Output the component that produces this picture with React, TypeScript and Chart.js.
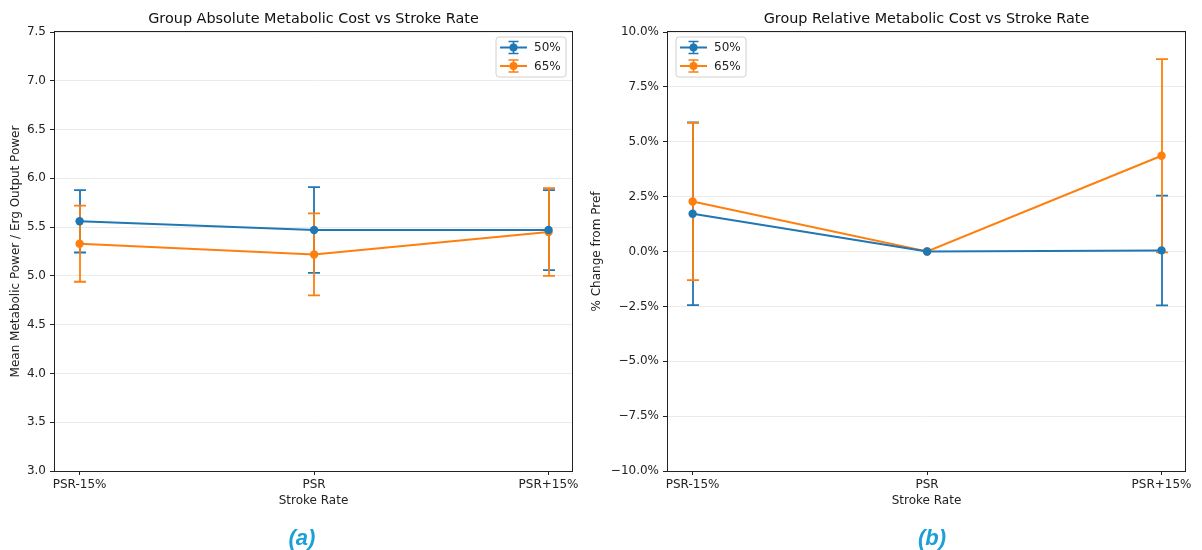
import React, { useEffect, useRef } from "react";
import { Chart, registerables } from "chart.js";

Chart.register(...registerables);

// Stroke-rate conditions on the x axis
const categories = ["PSR-15%", "PSR", "PSR+15%"];
const seriesLabels = ["50%", "65%"];
const seriesColors = ["#1f77b4", "#ff7f0e"];

// Absolute metabolic cost (mean ± SD)
const absMean50 = [5.56, 5.47, 5.47];
const absErr50 = [0.32, 0.44, 0.41];
const absMean65 = [5.33, 5.22, 5.45];
const absErr65 = [0.39, 0.42, 0.45];

// Relative change from preferred stroke rate, % (mean ± SD)
const relMean50 = [1.72, 0.0, 0.05];
const relErr50 = [4.16, 0.0, 2.5];
const relMean65 = [2.28, 0.0, 4.36];
const relErr65 = [3.58, 0.0, 4.4];

// Tick settings
const absTicks = { min: 3.0, max: 7.5, step: 0.5 };
const relTicks = { min: -10, max: 10, step: 2.5 };

const FONT = "'DejaVu Sans', 'Noto Sans', sans-serif";
const TEXT = "#222222";
const LABEL_SIZE = 12;
const TITLE_SIZE = 14.4;

Chart.defaults.font.family = FONT;
Chart.defaults.font.size = LABEL_SIZE;
Chart.defaults.color = TEXT;

type PanelProps = {
  title: string;
  yTitle: string;
  means: number[][];
  errs: number[][];
  yMin: number;
  yMax: number;
  yStep: number;
  yFormat: (v: number) => string;
  width: number;
  yAxisWidth: number;
  rightPad: number;
  yTitlePad: number;
  legendSide: "left" | "right";
};

const errorBarPlugin = {
  id: "errorBars",
  beforeDatasetsDraw(chart: any) {
    const ctx = chart.ctx;
    const yScale = chart.scales.y;
    chart.data.datasets.forEach((ds: any, i: number) => {
      const meta = chart.getDatasetMeta(i);
      ctx.save();
      ctx.strokeStyle = ds.borderColor;
      ctx.lineWidth = 1.8;
      meta.data.forEach((pt: any, j: number) => {
        const e = ds.errors[j];
        if (!e) return;
        const m = ds.data[j].y;
        const x = Math.round(pt.x);
        const yt = yScale.getPixelForValue(m + e);
        const yb = yScale.getPixelForValue(m - e);
        ctx.beginPath();
        ctx.moveTo(x, yt);
        ctx.lineTo(x, yb);
        ctx.moveTo(x - 6, yt);
        ctx.lineTo(x + 6, yt);
        ctx.moveTo(x - 6, yb);
        ctx.lineTo(x + 6, yb);
        ctx.stroke();
      });
      ctx.restore();
    });
  },
};

const framePlugin = {
  id: "frameTitleLegend",
  afterDraw(chart: any, _args: any, opts: any) {
    const ctx = chart.ctx;
    const a = chart.chartArea;
    ctx.save();
    // full box around plot area
    ctx.strokeStyle = "#222222";
    ctx.lineWidth = 1;
    ctx.strokeRect(Math.round(a.left) - 0.5, Math.round(a.top) - 0.5, Math.round(a.right - a.left) + 1, Math.round(a.bottom - a.top) + 1);

    // title centred over plot area
    ctx.fillStyle = "#111111";
    ctx.font = `${TITLE_SIZE}px ${FONT}`;
    ctx.textAlign = "center";
    ctx.textBaseline = "middle";
    ctx.fillText(opts.title, (a.left + a.right) / 2, 19);

    // legend box
    const w = 70;
    const h = 40;
    const x = opts.side === "right" ? a.right - 6 - w : a.left + 8;
    const y = a.top + 5;
    ctx.beginPath();
    const r = 3;
    ctx.moveTo(x + r, y);
    ctx.lineTo(x + w - r, y);
    ctx.quadraticCurveTo(x + w, y, x + w, y + r);
    ctx.lineTo(x + w, y + h - r);
    ctx.quadraticCurveTo(x + w, y + h, x + w - r, y + h);
    ctx.lineTo(x + r, y + h);
    ctx.quadraticCurveTo(x, y + h, x, y + h - r);
    ctx.lineTo(x, y + r);
    ctx.quadraticCurveTo(x, y, x + r, y);
    ctx.closePath();
    ctx.fillStyle = "rgba(255,255,255,0.85)";
    ctx.fill();
    ctx.strokeStyle = "#d0d0d0";
    ctx.stroke();

    chart.data.datasets.forEach((ds: any, i: number) => {
      const cy = y + 10.5 + i * 18.5;
      const mx = x + 17.5;
      ctx.strokeStyle = ds.borderColor;
      ctx.fillStyle = ds.borderColor;
      ctx.lineWidth = 2;
      ctx.beginPath();
      ctx.moveTo(x + 4, cy);
      ctx.lineTo(x + 31, cy);
      ctx.stroke();
      ctx.lineWidth = 1.6;
      ctx.beginPath();
      ctx.moveTo(mx, cy - 6);
      ctx.lineTo(mx, cy + 6);
      ctx.moveTo(mx - 5, cy - 6);
      ctx.lineTo(mx + 5, cy - 6);
      ctx.moveTo(mx - 5, cy + 6);
      ctx.lineTo(mx + 5, cy + 6);
      ctx.stroke();
      ctx.beginPath();
      ctx.arc(mx, cy, 4, 0, Math.PI * 2);
      ctx.fill();
      ctx.fillStyle = TEXT;
      ctx.font = `${LABEL_SIZE}px ${FONT}`;
      ctx.textAlign = "left";
      ctx.textBaseline = "middle";
      ctx.fillText(ds.label, x + 38, cy + 0.5);
    });
    ctx.restore();
  },
};

function Panel(p: PanelProps) {
  const ref = useRef<HTMLCanvasElement | null>(null);
  useEffect(() => {
    if (!ref.current) return;
    const datasets = p.means.map((vals, i) => ({
      label: seriesLabels[i],
      data: vals.map((v, j) => ({ x: j, y: v })),
      errors: p.errs[i],
      borderColor: seriesColors[i],
      backgroundColor: seriesColors[i],
      borderWidth: 2,
      pointRadius: 4.2,
      pointBorderWidth: 0,
      pointHoverRadius: 4.2,
      tension: 0,
      fill: false,
    }));
    const chart = new Chart(ref.current, {
      type: "line",
      data: { datasets } as any,
      plugins: [errorBarPlugin, framePlugin],
      options: {
        responsive: false,
        animation: false,
        devicePixelRatio: 1,
        layout: { padding: { left: 0, right: p.rightPad, top: 32, bottom: 0 } },
        plugins: {
          legend: { display: false },
          tooltip: { enabled: false },
          title: { display: false },
          frameTitleLegend: { title: p.title, side: p.legendSide },
        } as any,
        scales: {
          x: {
            type: "linear",
            min: -0.105,
            max: 2.1,
            afterBuildTicks: (s: any) => {
              s.ticks = categories.map((_, i) => ({ value: i }));
            },
            afterFit: (s: any) => {
              s.height = 79;
            },
            ticks: {
              autoSkip: false,
              maxRotation: 0,
              padding: 3,
              color: TEXT,
              callback: (v: any) => categories[v] ?? "",
            },
            grid: { drawOnChartArea: false, drawTicks: true, tickLength: 4, tickColor: "#222222", color: "#222222" },
            border: { display: false },
            title: { display: true, text: "Stroke Rate", color: TEXT, font: { size: LABEL_SIZE }, padding: { top: 0, bottom: 42 } },
          },
          y: {
            type: "linear",
            min: p.yMin,
            max: p.yMax,
            afterFit: (s: any) => {
              s.width = p.yAxisWidth;
            },
            ticks: {
              stepSize: p.yStep,
              padding: 4,
              color: TEXT,
              callback: (v: any) => p.yFormat(Number(v)),
            },
            grid: { color: "#ebebeb", tickColor: "#222222", tickLength: 5, lineWidth: 1 },
            border: { display: false },
            title: { display: true, text: p.yTitle, color: TEXT, font: { size: LABEL_SIZE }, padding: { top: p.yTitlePad, bottom: 0 } },
          },
        },
      } as any,
    });
    return () => chart.destroy();
  }, []);
  return <canvas ref={ref} width={p.width} height={550} style={{ display: "block" }} />;
}

const fmtAbs = (v: number) => v.toFixed(1);
const fmtRel = (v: number) => (v < -1e-9 ? "\u2212" : "") + Math.abs(v).toFixed(1) + "%";

const panelLabel: React.CSSProperties = {
  position: "absolute",
  top: 524,
  width: 60,
  height: 28,
  lineHeight: "28px",
  textAlign: "center",
  fontFamily: "'Liberation Sans', Arial, sans-serif",
  fontWeight: "bold",
  fontStyle: "italic",
  fontSize: 22,
  color: "#1a9fd9",
};

export default function App() {
  return (
    <div style={{ position: "fixed", left: 0, top: 0, width: 1202, height: 550, background: "#ffffff", overflow: "hidden" }}>
      <div style={{ position: "absolute", left: 0, top: 0 }}>
        <Panel
          title="Group Absolute Metabolic Cost vs Stroke Rate"
          yTitle="Mean Metabolic Power / Erg Output Power"
          means={[absMean50, absMean65]}
          errs={[absErr50, absErr65]}
          yMin={absTicks.min}
          yMax={absTicks.max}
          yStep={absTicks.step}
          yFormat={fmtAbs}
          width={601}
          yAxisWidth={55}
          rightPad={29}
          yTitlePad={9}
          legendSide="right"
        />
      </div>
      <div style={{ position: "absolute", left: 585, top: 0 }}>
        <Panel
          title="Group Relative Metabolic Cost vs Stroke Rate"
          yTitle="% Change from Pref"
          means={[relMean50, relMean65]}
          errs={[relErr50, relErr65]}
          yMin={relTicks.min}
          yMax={relTicks.max}
          yStep={relTicks.step}
          yFormat={fmtRel}
          width={617}
          yAxisWidth={83}
          rightPad={17}
          yTitlePad={5}
          legendSide="left"
        />
      </div>
      <div style={{ ...panelLabel, left: 272 }}>(a)</div>
      <div style={{ ...panelLabel, left: 902 }}>(b)</div>
    </div>
  );
}
